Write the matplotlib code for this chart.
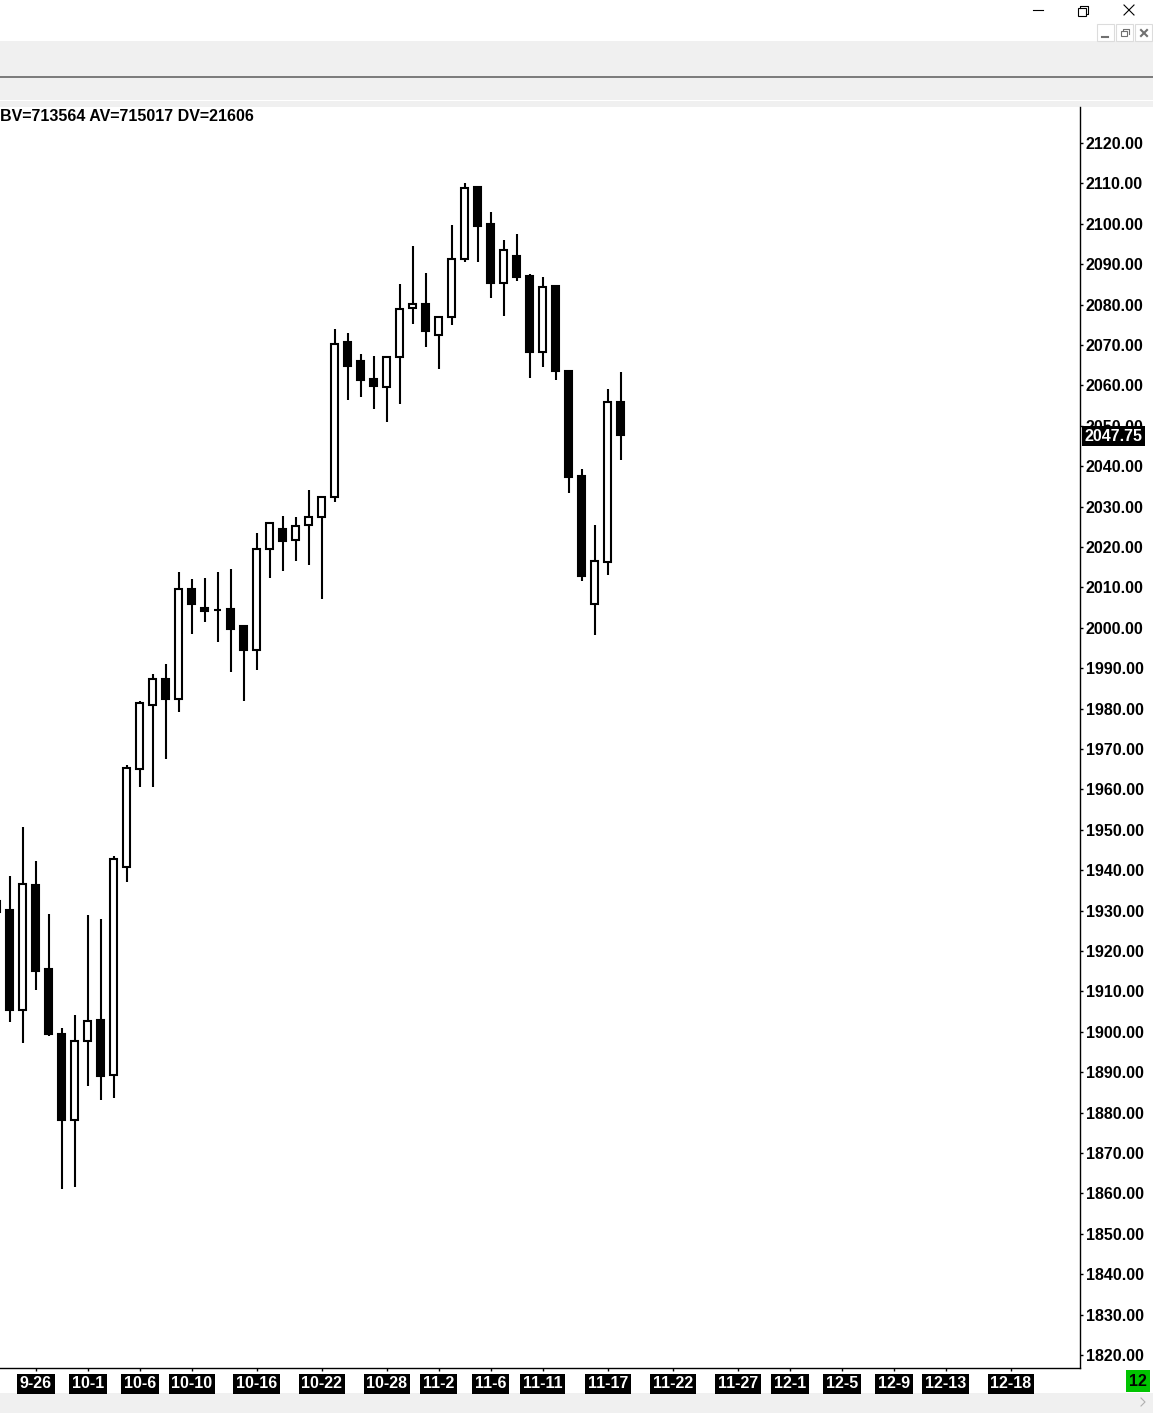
import numpy as np
import matplotlib
matplotlib.use('Agg')
import matplotlib.pyplot as plt
from matplotlib.patches import Rectangle

W, H = 1153, 1413
DPI = 100

# daily bars (first bar is mostly off the left edge)
first_bar = -1
opens  = [1932.5, 1930.25, 1905.5, 1936.25, 1915.5, 1899.5, 1878.25, 1897.75, 1903.0, 1889.25,
          1940.75, 1965.0, 1981.0, 1987.25, 1982.5, 2009.5, 2005.0, 2004.5, 2004.75, 2000.5,
          1994.5, 2019.5, 2024.5, 2021.75, 2025.5, 2027.5, 2032.5, 2070.75, 2066.0, 2061.5,
          2059.5, 2067.0, 2079.25, 2080.25, 2072.5, 2077.0, 2091.25, 2109.0, 2100.0, 2085.25,
          2092.0, 2087.0, 2068.25, 2084.5, 2063.5, 2037.5, 2006.0, 2016.25, 2056.0]
highs  = [1932.5, 1938.5, 1950.75, 1942.25, 1929.25, 1901.0, 1904.25, 1929.0, 1928.0, 1943.5,
          1966.0, 1982.0, 1988.5, 1991.0, 2013.75, 2012.0, 2012.25, 2013.75, 2014.5, 2000.75,
          2023.5, 2026.25, 2027.75, 2027.5, 2034.0, 2032.5, 2074.0, 2073.0, 2067.75, 2067.25,
          2067.0, 2085.0, 2094.5, 2087.75, 2077.25, 2099.75, 2110.0, 2109.0, 2103.0, 2096.0,
          2097.5, 2087.5, 2086.75, 2084.5, 2063.75, 2039.25, 2025.5, 2059.0, 2063.25]
lows   = [1929.75, 1902.5, 1897.25, 1910.25, 1899.0, 1861.0, 1861.5, 1886.5, 1883.0, 1883.5,
          1937.0, 1960.5, 1960.5, 1967.5, 1979.25, 1998.5, 2001.5, 1996.5, 1989.0, 1982.0,
          1989.5, 2012.25, 2014.0, 2016.5, 2015.5, 2007.25, 2031.25, 2056.5, 2057.25, 2054.25,
          2051.0, 2055.5, 2075.25, 2069.5, 2064.0, 2075.0, 2090.5, 2090.5, 2081.75, 2077.25,
          2085.75, 2061.75, 2064.5, 2061.25, 2033.25, 2011.5, 1998.25, 2013.0, 2041.5]
closes = [1929.75, 1905.5, 1936.5, 1915.0, 1899.5, 1878.25, 1897.75, 1902.75, 1889.0, 1942.75,
          1965.25, 1981.5, 1987.25, 1982.5, 2009.5, 2006.0, 2004.25, 2004.5, 1999.75, 1994.5,
          2019.5, 2026.0, 2021.5, 2025.25, 2027.5, 2032.5, 2070.25, 2064.75, 2061.25, 2059.75,
          2067.0, 2079.0, 2080.25, 2073.5, 2077.0, 2091.25, 2108.75, 2099.5, 2085.25, 2093.5,
          2086.75, 2068.25, 2084.25, 2063.5, 2037.25, 2012.75, 2016.5, 2056.0, 2047.75]

date_labels = ['9-26', '10-1', '10-6', '10-10', '10-16', '10-22', '10-28', '11-2', '11-6',
               '11-11', '11-17', '11-22', '11-27', '12-1', '12-5', '12-9', '12-13', '12-18']
date_bars = [2, 6, 10, 14, 19, 24, 29, 33, 37, 41, 46, 51, 56, 60, 64, 68, 72, 77]
price_ticks = np.arange(1820, 2121, 10)
header = 'BV=713564 AV=715017 DV=21606'

plt.rcParams['font.family'] = ['Liberation Sans', 'DejaVu Sans']
plt.rcParams['font.weight'] = 'bold'

fig = plt.figure(figsize=(W / DPI, H / DPI), dpi=DPI, facecolor='white')

# window chrome drawn in pixel coordinates
bg = fig.add_axes([0, 0, 1, 1], zorder=-1)
bg.set_xlim(0, W)
bg.set_ylim(H, 0)
bg.axis('off')
for y0, y1 in [(41, 76), (78, 100), (101, 107), (1393, H)]:
    bg.add_patch(Rectangle((0, y0), W, y1 - y0, facecolor='#f0f0f0', edgecolor='none'))
bg.plot([0, W], [77, 77], color='#7a7a7a', lw=1.4)
bg.plot([1033, 1043], [10, 10], color='black', lw=0.8)
bg.add_patch(Rectangle((1078, 8), 8, 8, facecolor='white', edgecolor='black', lw=0.8))
bg.plot([1080, 1080, 1088, 1088, 1086], [8, 5.5, 5.5, 13.5, 13.5], color='black', lw=0.8)
bg.plot([1124, 1134], [5, 15], color='black', lw=0.8)
bg.plot([1124, 1134], [15, 5], color='black', lw=0.8)
for bx in [1097, 1116, 1135]:
    bg.add_patch(Rectangle((bx, 24), 17, 17, facecolor='white', edgecolor='#dcdcdc', lw=0.8))
bg.plot([1102, 1108], [37, 37], color='#707070', lw=1.5)
bg.add_patch(Rectangle((1121, 31), 6, 5, facecolor='none', edgecolor='#707070', lw=0.8))
bg.plot([1123, 1123, 1129, 1129], [31, 29, 29, 34], color='#707070', lw=0.8)
bg.plot([1141, 1147], [30, 36], color='#707070', lw=1.5)
bg.plot([1141, 1147], [36, 30], color='#707070', lw=1.5)
bg.plot([1141, 1145, 1141], [1398, 1402, 1406], color='#b0b0b0', lw=0.8)

# price chart
ax = fig.add_axes([0, 1 - 1368 / H, 1080 / W, (1368 - 107) / H])
bars = np.arange(first_bar, first_bar + len(opens))
o = np.array(opens)
c = np.array(closes)
up = c >= o
ax.vlines(bars, lows, highs, color='black', lw=1.5, zorder=2)
ax.bar(bars, c - o, bottom=o, width=0.55,
       color=np.where(up, 'white', 'black'), edgecolor='black', lw=1.5, zorder=3)

ax.set_xlim(-9.8 / 13, (1080 - 9.8) / 13)
ax.set_ylim(2120 - (1368 - 143) / 4.04, 2120 + 36 / 4.04)

for side in ['left', 'top']:
    ax.spines[side].set_visible(False)
ax.spines['right'].set_linewidth(1.0)
ax.spines['bottom'].set_linewidth(1.0)

ax.yaxis.tick_right()
ax.set_yticks(price_ticks)
ax.set_yticklabels(['%.2f' % v for v in price_ticks])
ax.tick_params(axis='y', direction='out', length=2.5, width=1, pad=1.5, labelsize=11.5)

ax.set_xticks(date_bars)
ax.set_xticklabels(date_labels)
ax.tick_params(axis='x', direction='out', length=2.5, width=1, pad=3.5,
               labelsize=11.5, labelcolor='white')
for lbl in ax.get_xticklabels():
    lbl.set_bbox(dict(facecolor='black', edgecolor='none', pad=2.0))

ax.annotate(header, xy=(0, 1), xycoords='axes fraction', xytext=(0, -1.5),
            textcoords='offset points', ha='left', va='top', fontsize=11.5)
ax.annotate('%.2f' % closes[-1], xy=(1, closes[-1]), xycoords=('axes fraction', 'data'),
            xytext=(3, -1), textcoords='offset points', ha='left', va='center',
            fontsize=11.5, color='white', annotation_clip=False, zorder=10,
            bbox=dict(facecolor='black', edgecolor='none', pad=1.8))
fig.text(1138 / W, 1 - 1381 / H, '12', ha='center', va='center', fontsize=11.5,
         color='black', bbox=dict(facecolor='#00c400', edgecolor='none', pad=2.2))

fig.savefig('out.png', dpi=DPI, facecolor='white')
